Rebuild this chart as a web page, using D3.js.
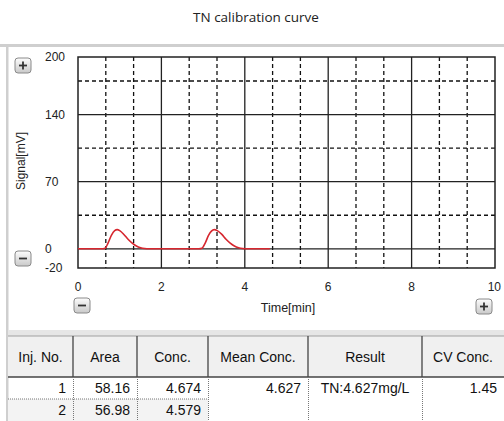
<!DOCTYPE html>
<html>
<head>
<meta charset="utf-8">
<script src="https://cdn.jsdelivr.net/npm/d3@7"></script>
<style>
  body { margin: 0; background: #fff; }
  svg { display: block; }
</style>
</head>
<body>
<div id="chart"></div>
<script>
var width = 504,
    height = 421;

// chromatogram trace (time in min, signal in mV)
var time   = [0, 0.6, 0.65, 0.72, 0.8, 0.88, 0.94, 1.0, 1.1, 1.2, 1.3, 1.4, 1.5, 1.6, 1.7, 2.9, 2.97, 3.05, 3.13, 3.2, 3.27, 3.34, 3.45, 3.55, 3.65, 3.75, 3.85, 3.95, 4.05, 4.6];
var signal = [0, 0, 0.5, 6, 14, 19, 20, 19, 15, 10, 6, 3, 1.2, 0.3, 0, 0, 0.5, 6, 14, 18.5, 20, 19, 15, 10, 6, 3, 1.2, 0.3, 0, 0];

var xTicks = [0, 2, 4, 6, 8, 10];
var yTicks = [200, 140, 70, 0, -20];
var yMajor = [0, 70, 140];
var yMinor = [35, 105, 175];

var columns = ["Inj. No.", "Area", "Conc.", "Mean Conc.", "Result", "CV Conc."];
var injNo   = ["1", "2"];
var area    = ["58.16", "56.98"];
var conc    = ["4.674", "4.579"];
var meanConc = ["4.627", ""];
var result  = ["TN:4.627mg/L", ""];
var cvConc  = ["1.45", ""];

var svg = d3.select("#chart").append("svg")
    .attr("width", width)
    .attr("height", height);

var x = d3.scaleLinear().domain([0, 10]).range([78, 495]);
var y = d3.scaleLinear().domain([-20, 200]).range([268, 57]);

// title
svg.append("text")
    .attr("x", 256).attr("y", 22)
    .attr("text-anchor", "middle")
    .style("font-family", "'Open Sans', sans-serif")
    .style("font-size", "13.5px")
    .style("fill", "#222")
    .text("TN calibration curve");

// panel frame
svg.append("rect").attr("x", 0).attr("y", 44).attr("width", width).attr("height", 3).attr("fill", "#cfcfcf");
svg.append("rect").attr("x", 6).attr("y", 44).attr("width", 2.5).attr("height", height - 44).attr("fill", "#cfcfcf");

// grid
var minorX = d3.range(1, 15).map(function(i) { return i * 2 / 3; }).filter(function(v) { return Math.abs(v / 2 - Math.round(v / 2)) > 0.01; });
var g = svg.append("g");
g.selectAll(".vminor").data(minorX).enter().append("line")
    .attr("x1", function(d) { return x(d); }).attr("x2", function(d) { return x(d); })
    .attr("y1", y(200)).attr("y2", y(-20))
    .attr("stroke", "#111").attr("stroke-width", 1.3).attr("stroke-dasharray", "4,3");
g.selectAll(".hminor").data(yMinor).enter().append("line")
    .attr("x1", x(0)).attr("x2", x(10))
    .attr("y1", function(d) { return y(d); }).attr("y2", function(d) { return y(d); })
    .attr("stroke", "#111").attr("stroke-width", 1.3).attr("stroke-dasharray", "4,3");
g.selectAll(".vmajor").data([2, 4, 6, 8]).enter().append("line")
    .attr("x1", function(d) { return x(d); }).attr("x2", function(d) { return x(d); })
    .attr("y1", y(200)).attr("y2", y(-20))
    .attr("stroke", "#222").attr("stroke-width", 1.3);
g.selectAll(".hmajor").data(yMajor).enter().append("line")
    .attr("x1", x(0)).attr("x2", x(10))
    .attr("y1", function(d) { return y(d); }).attr("y2", function(d) { return y(d); })
    .attr("stroke", "#222").attr("stroke-width", 1.3);
svg.append("rect")
    .attr("x", x(0)).attr("y", y(200))
    .attr("width", x(10) - x(0)).attr("height", y(-20) - y(200))
    .attr("fill", "none").attr("stroke", "#222").attr("stroke-width", 1.5);

// trace
var line = d3.line()
    .x(function(d, i) { return x(time[i]); })
    .y(function(d) { return y(d); })
    .curve(d3.curveMonotoneX);
svg.append("path")
    .datum(signal)
    .attr("d", line)
    .attr("fill", "none")
    .attr("stroke", "#d6262e")
    .attr("stroke-width", 1.6);

// tick labels
svg.selectAll(".ylab").data(yTicks).enter().append("text")
    .attr("x", 45).attr("y", function(d) { return y(d) + 4; })
    .style("font-family", "'Liberation Sans', Arial, sans-serif")
    .style("font-size", "12px").style("fill", "#222")
    .text(function(d) { return d; });
svg.selectAll(".xlab").data(xTicks).enter().append("text")
    .attr("x", function(d) { return x(d); }).attr("y", 291)
    .attr("text-anchor", function(d) { return d === 10 ? "end" : "middle"; })
    .attr("dx", function(d) { return d === 10 ? 6 : 0; })
    .style("font-family", "'Liberation Sans', Arial, sans-serif")
    .style("font-size", "12px").style("fill", "#222")
    .text(function(d) { return d; });

svg.append("text")
    .attr("transform", "translate(25,161) rotate(-90)")
    .attr("text-anchor", "middle")
    .style("font-family", "'Liberation Sans', Arial, sans-serif")
    .style("font-size", "12px").style("fill", "#222")
    .text("Signal[mV]");
svg.append("text")
    .attr("x", 288).attr("y", 312)
    .attr("text-anchor", "middle")
    .style("font-family", "'Liberation Sans', Arial, sans-serif")
    .style("font-size", "12.5px").style("fill", "#222")
    .text("Time[min]");

// zoom buttons
var grad = svg.append("defs").append("linearGradient")
    .attr("id", "btn").attr("x1", 0).attr("y1", 0).attr("x2", 0).attr("y2", 1);
grad.append("stop").attr("offset", "0%").attr("stop-color", "#fdfdfd");
grad.append("stop").attr("offset", "100%").attr("stop-color", "#c9c9c9");
var buttons = [[15, 58, "+"], [15, 251, "-"], [74, 298, "-"], [476, 299, "+"]];
buttons.forEach(function(b) {
  svg.append("rect")
      .attr("x", b[0]).attr("y", b[1]).attr("width", 16).attr("height", 15).attr("rx", 3)
      .attr("fill", "url(#btn)").attr("stroke", "#8a8a8a");
  svg.append("line")
      .attr("x1", b[0] + 4).attr("x2", b[0] + 12)
      .attr("y1", b[1] + 7.5).attr("y2", b[1] + 7.5)
      .attr("stroke", "#333").attr("stroke-width", 1.8);
  if (b[2] === "+") {
    svg.append("line")
        .attr("x1", b[0] + 8).attr("x2", b[0] + 8)
        .attr("y1", b[1] + 3.5).attr("y2", b[1] + 11.5)
        .attr("stroke", "#333").attr("stroke-width", 1.8);
  }
});

// results table
var colX = [8, 73, 137, 208, 308, 422, 504];
var headTop = 336, headBot = 377, rowH = 22;
svg.append("rect").attr("x", 8).attr("y", 330).attr("width", width - 8).attr("height", 6).attr("fill", "#e6e6e6");
svg.append("rect").attr("x", 8).attr("y", headTop).attr("width", width - 8).attr("height", headBot - headTop)
    .attr("fill", "#f0f0f0");
svg.append("line").attr("x1", 8).attr("x2", width).attr("y1", headTop).attr("y2", headTop).attr("stroke", "#a0a0a0");
svg.append("line").attr("x1", 8).attr("x2", width).attr("y1", headBot).attr("y2", headBot).attr("stroke", "#444").attr("stroke-width", 1.3);
colX.slice(1, 6).forEach(function(cx) {
  svg.append("line").attr("x1", cx).attr("x2", cx).attr("y1", headTop).attr("y2", headBot)
      .attr("stroke", "#444").attr("stroke-width", 1.3);
});
svg.selectAll(".hd").data(columns).enter().append("text")
    .attr("x", function(d, i) { return (colX[i] + colX[i + 1]) / 2; })
    .attr("y", 362)
    .attr("text-anchor", "middle")
    .style("font-family", "'Liberation Sans', Arial, sans-serif")
    .style("font-size", "14px").style("fill", "#111")
    .text(function(d) { return d; });

// second row shading
svg.append("rect").attr("x", 8).attr("y", headBot + rowH).attr("width", colX[3] - 8).attr("height", rowH)
    .attr("fill", "#f3f3f3");
svg.append("line").attr("x1", 8).attr("x2", colX[3]).attr("y1", headBot + rowH).attr("y2", headBot + rowH)
    .attr("stroke", "#777").attr("stroke-dasharray", "1,1");
colX.slice(1, 6).forEach(function(cx) {
  svg.append("line").attr("x1", cx + 0.5).attr("x2", cx + 0.5).attr("y1", headBot).attr("y2", height)
      .attr("stroke", "#777").attr("stroke-dasharray", "1,1");
});

var rows = injNo.map(function(d, i) { return [injNo[i], area[i], conc[i], meanConc[i], result[i], cvConc[i]]; });
rows.forEach(function(r, ri) {
  r.forEach(function(v, ci) {
    var centered = ci === 4;
    svg.append("text")
        .attr("x", centered ? (colX[ci] + colX[ci + 1]) / 2 : colX[ci + 1] - 7)
        .attr("y", headBot + rowH * ri + 16)
        .attr("text-anchor", centered ? "middle" : "end")
        .style("font-family", "'Liberation Sans', Arial, sans-serif")
        .style("font-size", "14px").style("fill", "#111")
        .text(v);
  });
});
</script>
</body>
</html>
